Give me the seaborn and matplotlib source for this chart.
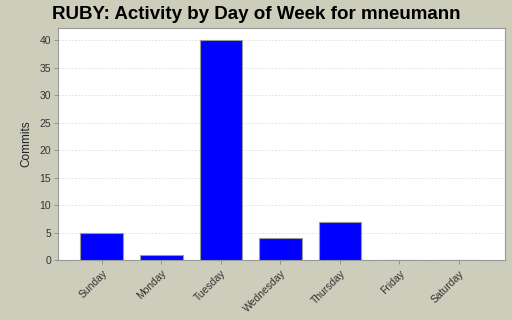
import matplotlib
matplotlib.use("Agg")
import matplotlib.pyplot as plt
import seaborn as sns
import pandas as pd

days = ["Sunday", "Monday", "Tuesday", "Wednesday", "Thursday", "Friday", "Saturday"]
commits = [5, 1, 40, 4, 7, 0, 0]
yticks = [0, 5, 10, 15, 20, 25, 30, 35, 40]

sns.set_style("white")
plt.rcParams['font.family'] = ['Liberation Sans', 'DejaVu Sans']

bg = "#cdcdbc"
fig = plt.figure(figsize=(5.12, 3.2), dpi=100, facecolor=bg)
ax = fig.add_axes([0.113, 0.1875, 0.873, 0.725])
df = pd.DataFrame({"day": days, "commits": commits})
sns.barplot(data=df, x="day", y="commits", color="#0000ff", saturation=1,
            width=0.72, edgecolor="#9a9a9a", linewidth=0.8, ax=ax, zorder=3)
ax.set_xlim(-0.74, 6.77)
ax.set_ylim(0, 42.2)
ax.set_yticks(yticks)
ax.set_yticklabels([str(v) for v in yticks], fontsize=7.5, color="#333333")
ax.set_xticks(range(len(days)))
ax.set_xticklabels(days, rotation=45, ha="right", rotation_mode="anchor", fontsize=7.5, color="#333333")
ax.tick_params(axis="y", length=3, width=0.6, color="#888888", pad=2, left=True)
ax.tick_params(axis="x", length=3, width=0.6, color="#888888", pad=3, bottom=True)
ax.yaxis.grid(True, color="#dddddd", linestyle=(0, (2, 2)), linewidth=0.6, zorder=0)
ax.set_axisbelow(True)
ax.set_xlabel("")
ax.set_ylabel("Commits", fontsize=8.5, color="#222222", labelpad=5)
for s in ax.spines.values():
    s.set_color("#999999")
    s.set_linewidth(0.8)
fig.text(0.5, 0.955, "RUBY: Activity by Day of Week for mneumann", ha="center", va="center",
         fontsize=13.5, fontweight="bold", color="#000000")
fig.savefig("out.png", dpi=100, facecolor=bg)
